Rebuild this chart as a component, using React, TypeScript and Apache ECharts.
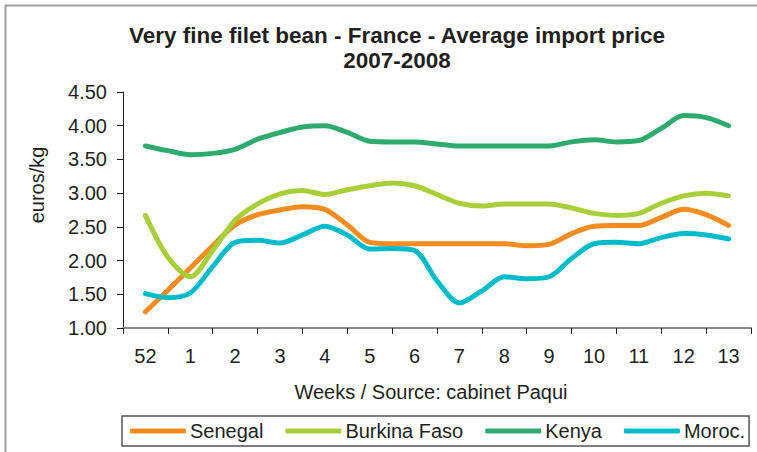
import React, { useEffect, useRef } from "react";
import * as echarts from "echarts";

const weekLabels = ["52", "1", "2", "3", "4", "5", "6", "7", "8", "9", "10", "11", "12", "13"];
const seriesNames = ["Senegal", "Burkina Faso", "Kenya", "Moroc."];
// half-week readings, from week 52 to week 13
const senegal = [1.24, 1.56, 1.89, 2.22, 2.53, 2.68, 2.75, 2.8, 2.76, 2.53, 2.27, 2.25, 2.25, 2.25, 2.25, 2.25, 2.25, 2.22, 2.24, 2.4, 2.51, 2.52, 2.52, 2.64, 2.76, 2.68, 2.52];
const burkina = [2.67, 2.05, 1.76, 2.15, 2.6, 2.84, 2.99, 3.04, 2.98, 3.05, 3.11, 3.15, 3.11, 2.98, 2.85, 2.81, 2.84, 2.84, 2.84, 2.78, 2.7, 2.67, 2.7, 2.85, 2.96, 3.0, 2.96];
const kenya = [3.7, 3.63, 3.57, 3.59, 3.65, 3.8, 3.9, 3.98, 4.0, 3.9, 3.77, 3.76, 3.76, 3.73, 3.7, 3.7, 3.7, 3.7, 3.7, 3.76, 3.79, 3.76, 3.78, 3.96, 4.15, 4.12, 4.0];
const morocco = [1.51, 1.45, 1.52, 1.91, 2.27, 2.3, 2.26, 2.38, 2.51, 2.38, 2.17, 2.18, 2.15, 1.7, 1.37, 1.55, 1.76, 1.73, 1.76, 2.03, 2.25, 2.27, 2.25, 2.34, 2.4, 2.38, 2.32];
const colors = ["#F68B1F", "#A8CE3A", "#2EAA6E", "#00BCCB"];

const FONT = "'Liberation Sans', Arial, sans-serif";
const TXT = "#231F20";

export default function App() {
  const ref = useRef<HTMLDivElement>(null);
  useEffect(() => {
    if (!ref.current) return;
    const chart = echarts.init(ref.current, undefined, { renderer: "svg" });
    const all = [senegal, burkina, kenya, morocco];
    const series = all.map((arr, k) => ({
      name: seriesNames[k],
      type: "line",
      xAxisIndex: 1,
      yAxisIndex: 0,
      data: arr.map((v, i) => [i / 2, v]),
      smooth: 0.3,
      showSymbol: false,
      symbol: "none",
      lineStyle: { width: 5, color: colors[k], cap: "round", join: "round" },
      itemStyle: { color: colors[k] },
    }));
    chart.setOption({
      animation: false,
      color: colors,
      title: {
        text: "Very fine filet bean - France - Average import price\n2007-2008",
        left: 397,
        top: 23,
        padding: 0,
        textAlign: "center",
        textStyle: { fontFamily: FONT, fontSize: 22.5, fontWeight: "bold", color: TXT, lineHeight: 25 },
      },
      grid: { left: 123, right: 6, top: 92, bottom: 124, containLabel: false },
      legend: {
        left: 122,
        top: 416,
        padding: [5, 4, 5, 8],
        borderColor: "#555",
        borderWidth: 1.5,
        itemGap: 22,
        itemWidth: 56,
        itemHeight: 5,
        icon: "roundRect",
        data: seriesNames,
        textStyle: { fontFamily: FONT, fontSize: 20, color: TXT, padding: [0, 0, 0, -1] },
      },
      xAxis: [
        {
          type: "category",
          data: weekLabels,
          boundaryGap: true,
          name: "Weeks / Source: cabinet Paqui",
          nameLocation: "middle",
          nameGap: 54,
          nameTextStyle: { fontFamily: FONT, fontSize: 20, color: TXT, padding: [0, 12, 0, 0] },
          axisLine: { onZero: false, lineStyle: { color: "#8A8A8A", width: 2 } },
          axisTick: { show: true, length: 6, interval: 0, lineStyle: { color: TXT, width: 1 } },
          axisLabel: { fontFamily: FONT, fontSize: 20, color: TXT, margin: 18, interval: 0 },
          splitLine: { show: false },
        },
        {
          type: "value",
          min: -0.5,
          max: 13.5,
          show: false,
          axisLine: { onZero: false },
          splitLine: { show: false },
        },
      ],
      yAxis: {
        type: "value",
        min: 1,
        max: 4.5,
        interval: 0.5,
        axisLine: { show: true, onZero: false, lineStyle: { color: TXT, width: 1 } },
        axisTick: { show: true, length: 6, lineStyle: { color: TXT } },
        axisLabel: {
          fontFamily: FONT,
          fontSize: 20,
          color: TXT,
          margin: 16,
          formatter: (v: number) => v.toFixed(2),
        },
        splitLine: { show: false },
      },
      graphic: [
        {
          type: "rect",
          shape: { x: 5.5, y: 5.5, width: 800, height: 500 },
          style: { fill: "none", stroke: "#A0A0A0", lineWidth: 2 },
          silent: true,
        },
        {
          type: "text",
          x: 37,
          y: 185,
          rotation: Math.PI / 2,
          style: {
            text: "euros/kg",
            fontFamily: FONT,
            fontSize: 20,
            fill: TXT,
            textAlign: "center",
            textVerticalAlign: "middle",
          },
        },
      ],
      series,
    });
    return () => chart.dispose();
  }, []);
  return (
    <div
      ref={ref}
      style={{ position: "absolute", left: 0, top: 0, width: 757, height: 452, background: "#fff" }}
    />
  );
}
